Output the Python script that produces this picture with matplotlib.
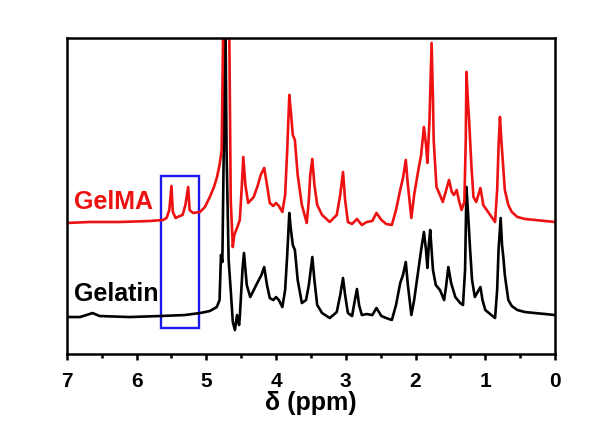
import matplotlib
matplotlib.use('Agg')
import matplotlib.pyplot as plt
from matplotlib.patches import Rectangle
from matplotlib.ticker import MultipleLocator

plt.rcParams['font.family'] = ['Liberation Sans', 'DejaVu Sans']
plt.rcParams['font.weight'] = 'bold'

# Gelatin trace (ppm, intensity a.u.)
gel_ppm = [7.00, 6.81, 6.63, 6.53, 6.10, 5.67, 5.31, 5.09, 4.95, 4.85, 4.81, 4.79,
           4.77, 4.75, 4.73, 4.71, 4.68, 4.65, 4.62, 4.59, 4.56, 4.53, 4.52, 4.48,
           4.46, 4.42, 4.37, 4.32, 4.27, 4.21, 4.17, 4.13, 4.09, 4.04, 4.00, 3.96,
           3.91, 3.87, 3.84, 3.81, 3.79, 3.76, 3.73, 3.69, 3.63, 3.57, 3.53, 3.48,
           3.45, 3.41, 3.34, 3.23, 3.13, 3.08, 3.04, 3.01, 2.97, 2.91, 2.87, 2.84,
           2.81, 2.77, 2.70, 2.62, 2.56, 2.49, 2.42, 2.34, 2.28, 2.22, 2.18, 2.14,
           2.11, 2.06, 2.02, 1.96, 1.92, 1.88, 1.85, 1.83, 1.81, 1.79, 1.77, 1.75,
           1.71, 1.65, 1.59, 1.56, 1.53, 1.49, 1.43, 1.36, 1.32, 1.29, 1.27, 1.25,
           1.22, 1.19, 1.15, 1.11, 1.07, 1.04, 1.00, 0.93, 0.86, 0.83, 0.81, 0.78,
           0.76, 0.74, 0.72, 0.67, 0.62, 0.54, 0.43, 0.29, 0.14, 0.00]
gel_int = [-1, -1, 3, 0, -1, 0, 1, 3, 5, 9, 16, 61,
           54, 166, 336, 166, 56, 26, -6, -14, 1, -9, -1, 48,
           63, 31, 19, 26, 33, 41, 49, 31, 18, 16, 19, 16,
           9, 26, 61, 103, 88, 71, 66, 36, 13, 16, 31, 59,
           36, 11, 3, -2, 4, 21, 38, 21, 3, 0, 16, 27,
           11, 1, 2, 1, 8, 0, -2, -4, 11, 33, 41, 54,
           31, 1, 16, 46, 66, 84, 66, 48, 71, 86, 66, 46,
           31, 26, 16, 31, 49, 33, 19, 13, 11, 46, 129, 106,
           69, 36, 19, 24, 29, 16, 6, 2, -2, 26, 66, 98,
           71, 58, 41, 16, 10, 6, 4, 3, 2, 1]

# GelMA trace (ppm, intensity a.u.)
gelma_ppm = [7.00, 6.67, 6.24, 5.81, 5.62, 5.57, 5.53, 5.50, 5.48, 5.44, 5.38, 5.34,
             5.30, 5.26, 5.24, 5.19, 5.09, 5.02, 4.95, 4.89, 4.85, 4.81, 4.78, 4.76,
             4.73, 4.69, 4.67, 4.65, 4.62, 4.60, 4.56, 4.52, 4.49, 4.47, 4.44, 4.40,
             4.36, 4.32, 4.26, 4.22, 4.17, 4.13, 4.09, 4.04, 4.00, 3.96, 3.91, 3.87,
             3.84, 3.81, 3.79, 3.76, 3.73, 3.69, 3.63, 3.56, 3.53, 3.51, 3.48, 3.45,
             3.41, 3.34, 3.23, 3.13, 3.08, 3.04, 3.01, 2.97, 2.91, 2.84, 2.77, 2.70,
             2.62, 2.56, 2.49, 2.42, 2.34, 2.28, 2.22, 2.18, 2.14, 2.11, 2.06, 2.02,
             1.96, 1.92, 1.88, 1.85, 1.83, 1.80, 1.77, 1.75, 1.74, 1.70, 1.65, 1.61,
             1.56, 1.52, 1.48, 1.45, 1.41, 1.38, 1.34, 1.30, 1.28, 1.27, 1.25, 1.23,
             1.20, 1.17, 1.13, 1.10, 1.07, 1.04, 1.03, 0.96, 0.86, 0.83, 0.81, 0.79,
             0.77, 0.74, 0.72, 0.67, 0.62, 0.54, 0.43, 0.29, 0.14, 0.00]
gelma_int = [-2, -1, -1, 0, 1, 3, 11, 35, 9, 3, 5, 6,
             16, 34, 11, 8, 9, 14, 24, 34, 43, 56, 71, 183,
             261, 261, 183, 21, -26, -14, -7, 1, 36, 64, 36, 18,
             21, 24, 36, 46, 53, 36, 18, 15, 18, 15, 9, 26,
             71, 126, 111, 86, 81, 46, 16, -2, 21, 46, 62, 36,
             16, 6, -1, 6, 26, 49, 21, -1, -3, 2, -4, -1,
             0, 8, 1, -3, -4, 11, 31, 43, 61, 36, 3, 26,
             51, 66, 94, 76, 58, 101, 178, 121, 81, 34, 26, 19,
             31, 41, 29, 26, 31, 21, 11, 19, 81, 149, 121, 98,
             56, 24, 19, 26, 33, 21, 16, 9, -1, 31, 74, 104,
             81, 51, 31, 16, 9, 4, 2, 1, 0, -1]

gelma_offset = 95
box_ppm = (5.11, 5.65)
box_int = (-12, 140)

fig = plt.figure(figsize=(6.02, 4.21), dpi=100)
ax = fig.add_axes([0.111, 0.159, 0.811, 0.751])

ax.plot(gel_ppm, gel_int, color='black', lw=1.9)
ax.plot(gelma_ppm, [v + gelma_offset for v in gelma_int], color='#ee1111', lw=1.9)

ax.add_patch(Rectangle((box_ppm[0], box_int[0]), box_ppm[1] - box_ppm[0],
                       box_int[1] - box_int[0], fill=False, ec='#1a1aee', lw=1.7))

ax.text(6.9, 22, 'Gelatin', color='black', fontsize=18, fontweight='bold',
        ha='left', va='center')
ax.text(6.9, 114, 'GelMA', color='#ee1111', fontsize=18, fontweight='bold',
        ha='left', va='center')

ax.set_xlim(7, 0)
ax.set_ylim(-38, 278)
ax.set_yticks([])
ax.xaxis.set_major_locator(MultipleLocator(1))
ax.xaxis.set_minor_locator(MultipleLocator(0.5))
ax.tick_params(axis='x', which='major', direction='out', length=4, width=1.8,
               labelsize=15, pad=9)
ax.tick_params(axis='x', which='minor', direction='out', length=3, width=1.8)
for lab in ax.get_xticklabels():
    lab.set_fontweight('bold')
for s in ax.spines.values():
    s.set_linewidth(1.8)
ax.set_xlabel('δ (ppm)', fontsize=18, fontweight='bold', labelpad=0)

fig.savefig('out.png', dpi=100)
